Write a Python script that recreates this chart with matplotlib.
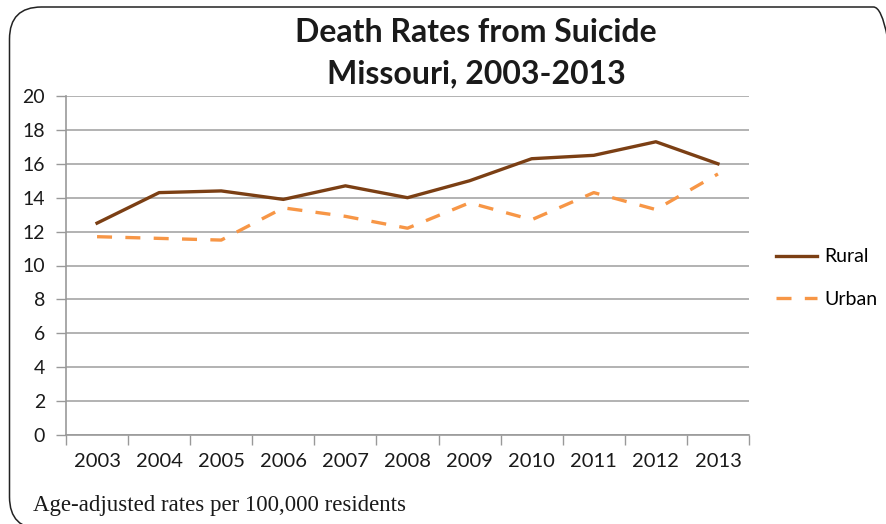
import matplotlib
matplotlib.use("Agg")
import matplotlib.pyplot as plt
from matplotlib.patches import FancyBboxPatch

years = ["2003", "2004", "2005", "2006", "2007", "2008", "2009", "2010", "2011", "2012", "2013"]
rural = [12.5, 14.3, 14.4, 13.9, 14.7, 14.0, 15.0, 16.3, 16.5, 17.3, 16.0]
urban = [11.7, 11.6, 11.5, 13.4, 12.9, 12.2, 13.7, 12.7, 14.3, 13.3, 15.4]
yticks = list(range(0, 21, 2))

font = "Lato"
fig = plt.figure(figsize=(8.86, 5.24), dpi=100)

# rounded frame (in inches so the corners stay circular)
frame = FancyBboxPatch((0.095, -0.05), 8.96, 5.22,
                       boxstyle="round,pad=0,rounding_size=0.32",
                       transform=fig.dpi_scale_trans, fill=False,
                       edgecolor="#222222", linewidth=1.1)
fig.patches.append(frame)

ax = fig.add_axes([66/886, 89/524, (749-66)/886, (435-96)/524])
x = list(range(len(years)))
ax.plot(x, rural, color="#7b3f14", linewidth=2.4, label="Rural")
ax.plot(x, urban, color="#f79646", linewidth=2.4, linestyle=(0, (4.5, 4)), label="Urban")

ax.set_ylim(0, 20)
ax.set_xlim(-0.5, len(years) - 0.5)
ax.set_yticks(yticks)
ax.set_yticklabels([str(v) for v in yticks], fontsize=14, fontfamily=font, color="#1a1a1a")
ax.set_xticks([i - 0.5 for i in range(len(years) + 1)])
ax.set_xticklabels([])
ax.set_xticks(x, minor=True)
ax.set_xticklabels(years, minor=True, fontsize=14.5, fontfamily=font, color="#1a1a1a")
ax.tick_params(axis="x", which="major", length=7, color="#999999", width=1)
ax.tick_params(axis="x", which="minor", length=0, pad=13)
ax.tick_params(axis="y", length=7, color="#999999", width=1, pad=8)
ax.grid(axis="y", color="#a6a6a6", linewidth=1.2)
ax.set_axisbelow(True)
for s in ["top", "right"]:
    ax.spines[s].set_visible(False)
for s in ["left", "bottom"]:
    ax.spines[s].set_color("#999999")
    ax.spines[s].set_linewidth(1.2)

fig.text(476/886, 1 - 33/524, "Death Rates from Suicide", ha="center", va="center",
         fontsize=23, fontweight="bold", fontfamily=font, color="#1a1a1a")
fig.text(476/886, 1 - 74/524, "Missouri, 2003-2013", ha="center", va="center",
         fontsize=23, fontweight="bold", fontfamily=font, color="#1a1a1a")

fig.legend(loc="center left", bbox_to_anchor=(776/886, 1 - 278/524), frameon=False,
           borderpad=0, borderaxespad=0,
           handlelength=2.1, labelspacing=1.3, handletextpad=0.4,
           prop={"family": font, "size": 14})

fig.text(33/886, 1 - 505/524, "Age-adjusted rates per 100,000 residents", ha="left", va="center",
         fontsize=16.5, fontfamily="Liberation Serif", color="#1a1a1a")

fig.savefig("out.png", dpi=100)
